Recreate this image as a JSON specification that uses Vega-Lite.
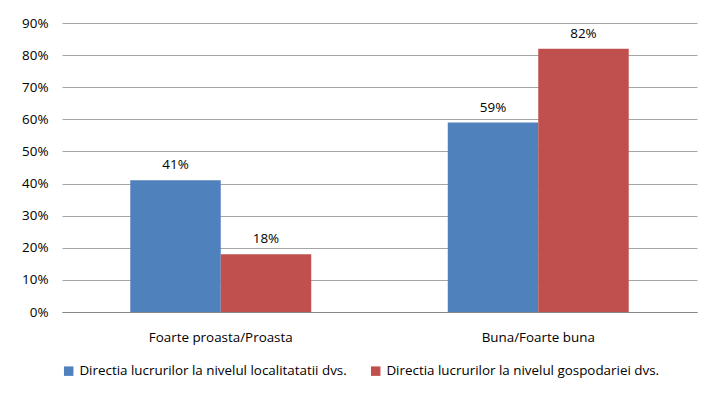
{
  "$schema": "https://vega.github.io/schema/vega-lite/v6.json",
  "width": 635,
  "height": 289,
  "autosize": {"type": "none"},
  "padding": {"left": 62, "top": 23, "right": 23, "bottom": 82},
  "background": "white",
  "config": {
    "view": {"stroke": null},
    "font": "Open Sans",
    "axis": {"labelFont": "Open Sans", "labelColor": "#000000", "labelFontSize": 13.4},
    "legend": {"labelFont": "Open Sans", "labelFontSize": 13.4, "labelColor": "#000000"}
  },
  "data": {
    "values": [
      {"cat": "Foarte proasta/Proasta", "series": "Directia lucrurilor la nivelul localitatatii dvs.", "value": 0.41, "label": "41%"},
      {"cat": "Foarte proasta/Proasta", "series": "Directia lucrurilor la nivelul gospodariei dvs.", "value": 0.18, "label": "18%"},
      {"cat": "Buna/Foarte buna", "series": "Directia lucrurilor la nivelul localitatatii dvs.", "value": 0.59, "label": "59%"},
      {"cat": "Buna/Foarte buna", "series": "Directia lucrurilor la nivelul gospodariei dvs.", "value": 0.82, "label": "82%"}
    ]
  },
  "encoding": {
    "x": {
      "field": "cat", "type": "nominal", "sort": ["Foarte proasta/Proasta", "Buna/Foarte buna"],
      "scale": {"paddingInner": 0.43, "paddingOuter": 0.215},
      "axis": {"title": null, "labelAngle": 0, "ticks": false, "domainColor": "#868686", "labelPadding": 18}
    },
    "xOffset": {
      "field": "series", "type": "nominal",
      "sort": ["Directia lucrurilor la nivelul localitatatii dvs.", "Directia lucrurilor la nivelul gospodariei dvs."]
    },
    "y": {
      "field": "value", "type": "quantitative",
      "scale": {"domain": [0, 0.9], "nice": false},
      "axis": {"title": null, "format": ".0%", "values": [0, 0.1, 0.2, 0.3, 0.4, 0.5, 0.6, 0.7, 0.8, 0.9], "ticks": false, "domain": false, "gridColor": "#a6a6a6", "labelPadding": 14}
    }
  },
  "layer": [
    {
      "mark": {"type": "bar"},
      "encoding": {
        "color": {
          "field": "series", "type": "nominal",
          "sort": ["Directia lucrurilor la nivelul localitatatii dvs.", "Directia lucrurilor la nivelul gospodariei dvs."],
          "scale": {"range": ["#4F81BD", "#C0504D"]},
          "legend": {"title": null, "orient": "bottom", "direction": "horizontal", "symbolType": "square", "symbolSize": 90, "symbolStrokeWidth": 0, "labelLimit": 400, "columnPadding": 22, "offset": 20}
        }
      }
    },
    {
      "mark": {"type": "text", "dy": -15, "fontSize": 13.4, "color": "#000000"},
      "encoding": {"text": {"field": "label"}}
    }
  ]
}
